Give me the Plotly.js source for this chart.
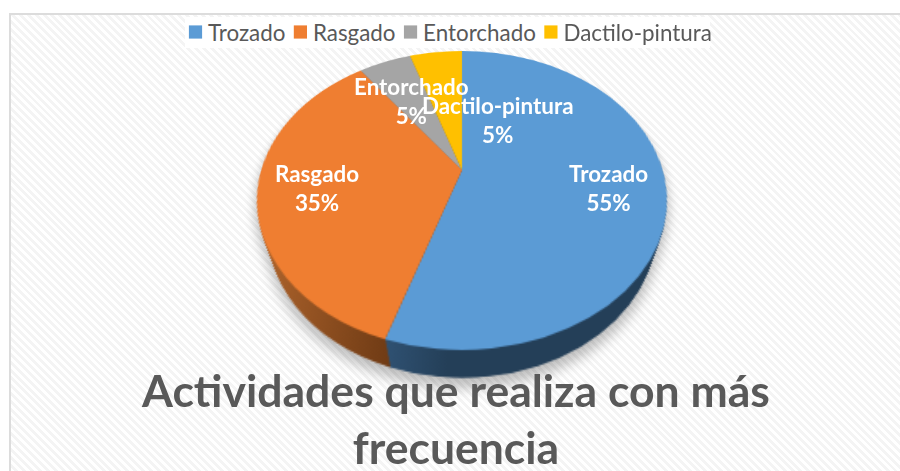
<!DOCTYPE html>
<html>
<head>
<meta charset="utf-8">
<script src="https://cdn.plot.ly/plotly-3.0.1.min.js"></script>
<style>
html,body{margin:0;padding:0;background:#fff;width:900px;height:471px;overflow:hidden}
#hatch{position:absolute;left:9px;top:13px;width:891px;height:458px;box-sizing:border-box;border-left:2px solid #dcdcdc;border-top:2px solid #dcdcdc;
background:repeating-linear-gradient(45deg,#ffffff 0,#ffffff 2.8px,#f4f4f4 2.8px,#f4f4f4 5.6px)}
#gd{position:absolute;left:0;top:0;width:900px;height:471px}
svg text{font-variant-ligatures:none}
</style>
</head>
<body>
<div id="hatch"></div>
<div id="gd"></div>
<script>
const categories = ['Trozado', 'Rasgado', 'Entorchado', 'Dactilo-pintura'];
const percentages = [55, 35, 5, 5];
const topColors = ['#5B9BD5', '#EF7E31', '#A5A5A5', '#FFC000'];
const sideColors = ['#243F58', '#8A4E20', '#636363', '#997300'];
const chartTitle = 'Actividades que realiza con más<br>frecuencia';

// Plot-frame geometry of the tilted disc
const W = 900, H = 471, CX = 462, CY = 170, R = 140;
const depthSteps = 30, shrink = 0.906, drop = 0.213;

function domainFor(r, cy) {
  return { x: [(CX - r) / W, (CX + r) / W], y: [1 - (cy + r) / H, 1 - (cy - r) / H] };
}
const traces = [];
for (let i = depthSteps; i >= 1; i--) {
  const t = i / depthSteps;
  traces.push({
    type: 'pie', labels: categories, values: percentages, sort: false, direction: 'clockwise', rotation: 0,
    textinfo: 'none', hoverinfo: 'skip', showlegend: false,
    marker: { colors: sideColors, line: { width: 0 } },
    domain: domainFor(R * (1 - (1 - shrink) * t), CY + R * drop * t)
  });
}
traces.push({
  type: 'pie', labels: categories, values: percentages, sort: false, direction: 'clockwise', rotation: 0,
  textinfo: 'none', hoverinfo: 'label+percent',
  marker: { colors: topColors, line: { width: 0 } },
  domain: domainFor(R, CY)
});

const labelPos = [[608, 188], [317, 188], [411, 101], [498, 120]];
const annotations = categories.map((c, i) => ({
  xref: 'paper', yref: 'paper', x: labelPos[i][0] / W, y: 1 - labelPos[i][1] / H,
  xanchor: 'center', yanchor: 'middle', showarrow: false, align: 'center',
  text: '<b>' + c + '<br>' + percentages[i] + '%</b>',
  font: { family: 'Lato, sans-serif', size: 22.4, color: '#ffffff' }
}));

const layout = {
  width: W, height: H, margin: { l: 0, r: 0, t: 0, b: 0 },
  paper_bgcolor: 'rgba(0,0,0,0)', plot_bgcolor: 'rgba(0,0,0,0)',
  title: { text: '<b>' + chartTitle + '</b>', x: 456 / W, xanchor: 'center', y: 1 - 406.5 / H, yanchor: 'top',
           font: { family: 'Lato, sans-serif', size: 44.5, color: '#595959' } },
  legend: { orientation: 'h', x: 185 / W, xanchor: 'left', y: 1 - 17 / H, yanchor: 'top',
            bgcolor: '#ffffff', font: { family: 'Lato, sans-serif', size: 22.4, color: '#595959' }, traceorder: 'normal' },
  annotations: annotations
};

Plotly.newPlot('gd', traces, layout, { displayModeBar: false, responsive: false }).then(() => {
  const gd = document.getElementById('gd');
  const svgs = gd.querySelectorAll('svg.main-svg');
  const paper = svgs[0];

  // Tilt the disc layer only; legend, title and labels live on the upper svg.
  const A = 200.7 / R, B = 143.3 / R, C = -0.204 / R;
  paper.style.transformOrigin = CX + 'px ' + CY + 'px';
  paper.style.transform = 'matrix3d(' + [A,0,0,0, 0,B,0,C, 0,0,1,0, 0,0,0,1].join(',') + ')';
  paper.style.filter = 'drop-shadow(0 6px 3px rgba(0,0,0,0.24))';
  paper.style.overflow = 'visible';

  // Side shading
  const NS = 'http://www.w3.org/2000/svg';
  const defs = document.createElementNS(NS, 'defs');
  function grad(id, x1, x2, c1, c2) {
    const g = document.createElementNS(NS, 'linearGradient');
    g.setAttribute('id', id); g.setAttribute('gradientUnits', 'userSpaceOnUse');
    g.setAttribute('x1', CX + x1); g.setAttribute('x2', CX + x2); g.setAttribute('y1', 0); g.setAttribute('y2', 0);
    [[0, c1], [1, c2]].forEach(s => {
      const st = document.createElementNS(NS, 'stop');
      st.setAttribute('offset', s[0]); st.setAttribute('stop-color', s[1]); g.appendChild(st);
    });
    defs.appendChild(g);
  }
  grad('sideO', -125, -38, '#B0652D', '#6E3A14');
  grad('sideB', -42, -8, '#2F5172', '#243F58');
  paper.appendChild(defs);
  const groups = paper.querySelectorAll('.pielayer .trace');
  groups.forEach((g, i) => {
    if (i === groups.length - 1) return;
    const s = g.querySelectorAll('.slice path.surface');
    if (s[0]) s[0].style.fill = 'url(#sideB)';
    if (s[1]) s[1].style.fill = 'url(#sideO)';
  });

  // Compact legend rhythm
  let x = 4;
  gd.querySelectorAll('.legend .traces').forEach(tr => {
    tr.setAttribute('transform', 'translate(' + x + ',15)');
    const txt = tr.querySelector('.legendtext');
    txt.setAttribute('x', 19);
    const sym = tr.querySelector('.legendpie, .legendpoints path');
    if (sym) sym.setAttribute('transform', 'translate(6.5,0) scale(1.1)');
    x += 19 + txt.getComputedTextLength() + 8.5;
  });
  const bg = gd.querySelector('.legend .bg');
  if (bg) { bg.setAttribute('width', 525); bg.setAttribute('height', 31); }
});
</script>
</body>
</html>
